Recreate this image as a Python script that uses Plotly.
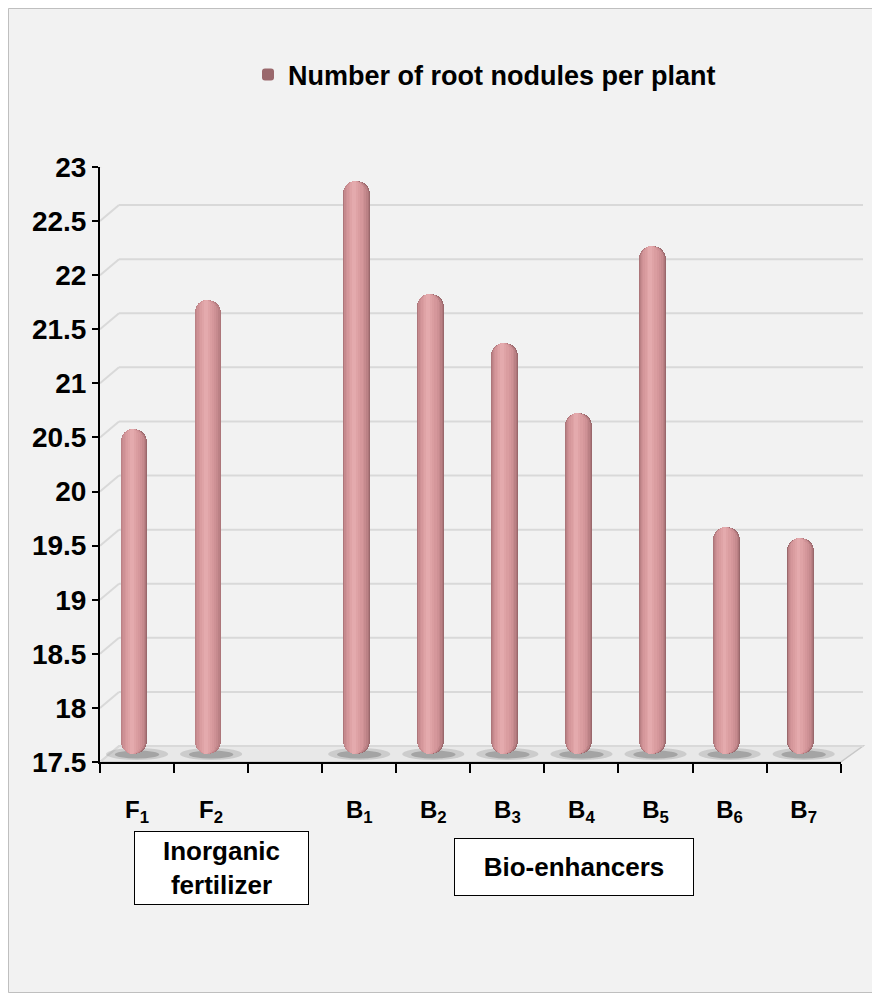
import plotly.graph_objects as go

# Data
categories = ["F1", "F2", "", "B1", "B2", "B3", "B4", "B5", "B6", "B7"]
tick_text = ["F<sub>1</sub>", "F<sub>2</sub>", "", "B<sub>1</sub>", "B<sub>2</sub>",
             "B<sub>3</sub>", "B<sub>4</sub>", "B<sub>5</sub>", "B<sub>6</sub>", "B<sub>7</sub>"]
nodules = [20.5, 21.7, None, 22.8, 21.75, 21.3, 20.65, 22.2, 19.6, 19.5]
y_ticks = [17.5, 18, 18.5, 19, 19.5, 20, 20.5, 21, 21.5, 22, 22.5, 23]
series_name = "Number of root nodules per plant"

FONT = "Liberation Sans, Arial, sans-serif"
OFF = 8                      # page body margin of the browser
W, H = 880 - OFF, 993 - OFF
L, R, T, B = 92, 17, 143, 231
PW, PH = W - L - R, H - T - B


def px(x):
    # screen pixel -> paper fraction
    return (x - OFF - L) / PW


def py(y):
    return (H - B - (y - OFF)) / PH


y_min, y_max = y_ticks[0], y_ticks[-1]
depth_dx = 19 / PW              # back wall shift right
depth_dy = 16 / PH              # back wall shift up
mid_dy = 8 / PH                 # bars stand at mid depth
front_top = 1 - depth_dy
unit_px = front_top * PH / (y_max - y_min)
depth_data = 16 / unit_px
front_right = px(840.7)

xs = list(range(len(categories)))

fig = go.Figure()

# cylinder shading: dark rim -> light core, highlight a bit left of centre
# (bars with a base get both ends rounded, which gives the capsule look)
layers = [(0.36, 0.0, "#9a686c"), (0.345, -0.005, "#ad767a"), (0.325, -0.009, "#bb8185"),
          (0.295, -0.013, "#c68a8e"), (0.255, -0.017, "#ce9195"), (0.21, -0.021, "#d5979b"),
          (0.16, -0.025, "#da9da0"), (0.105, -0.028, "#dfa3a6"), (0.05, -0.03, "#e4aaad")]
shift = -0.04
for i, (w, s, color) in enumerate(layers):
    fig.add_trace(go.Bar(
        x=xs, y=[None if v is None else v - y_min for v in nodules], base=y_min,
        width=w, offset=-w / 2 + s + shift,
        marker_color=color, marker_line_width=0, marker_cornerradius="50%",
        xaxis="x", yaxis="y3", hoverinfo="skip",
        name=f"<b>{series_name}</b>", showlegend=(i == 0),
    ))

shapes = []
# floor
shapes.append(dict(
    type="path", xref="paper", yref="paper", layer="below",
    path=f"M 0 0 L {front_right} 0 L 1 {depth_dy} L {depth_dx} {depth_dy} Z",
    fillcolor="#e8e8e8", line=dict(color="#c8c8c8", width=1.5),
))
# back wall and side wall gridlines
for v in y_ticks:
    shapes.append(dict(type="line", xref="paper", yref="y", layer="below",
                       x0=0, y0=v, x1=depth_dx, y1=v + depth_data,
                       line=dict(color="#d9d9d9", width=2)))
    shapes.append(dict(type="line", xref="paper", yref="y", layer="below",
                       x0=depth_dx, y0=v + depth_data, x1=1, y1=v + depth_data,
                       line=dict(color="#d9d9d9", width=2)))
# shadows under the cylinders
for x, v in zip(xs, nodules):
    if v is None:
        continue
    shapes.append(dict(type="circle", xref="x", yref="paper", layer="below",
                       x0=x - 0.42, x1=x + 0.42, y0=py(760), y1=py(748),
                       fillcolor="rgba(120,120,120,0.25)", line_width=0))
    shapes.append(dict(type="circle", xref="x", yref="paper", layer="below",
                       x0=x - 0.3, x1=x + 0.3, y0=py(758.5), y1=py(750.5),
                       fillcolor="rgba(90,90,90,0.35)", line_width=0))
# chart border
shapes.append(dict(type="rect", xref="paper", yref="paper",
                   x0=px(8.5), x1=px(879.5), y0=py(992.5), y1=py(8.5),
                   line=dict(color="#bfbfbf", width=1)))

annotations = [
    dict(text="<b>Inorganic<br>fertilizer</b>", xref="paper", yref="paper",
         x=px(221.5), y=py(868), xanchor="center", yanchor="middle",
         showarrow=False, width=171, height=70,
         bgcolor="white", bordercolor="black", borderwidth=1,
         font=dict(family=FONT, size=26, color="black")),
    dict(text="<b>Bio-enhancers</b>", xref="paper", yref="paper",
         x=px(574), y=py(867), xanchor="center", yanchor="middle",
         showarrow=False, width=236, height=54,
         bgcolor="white", bordercolor="black", borderwidth=1,
         font=dict(family=FONT, size=26, color="black")),
]

fig.update_layout(
    width=W, height=H,
    margin=dict(l=L, r=R, t=T, b=B, autoexpand=False),
    paper_bgcolor="#f2f2f2", plot_bgcolor="rgba(0,0,0,0)",
    barmode="overlay", bargap=0,
    font=dict(family=FONT, color="black"),
    shapes=shapes, annotations=annotations,
    legend=dict(orientation="h", x=px(248), y=py(75), xanchor="left", yanchor="middle",
                font=dict(family=FONT, size=27, color="black"),
                bgcolor="rgba(0,0,0,0)"),
    xaxis=dict(
        domain=[0, front_right], range=[-0.5, len(xs) - 0.5],
        tickmode="array", tickvals=xs, ticktext=[f"<b>{t}</b>" for t in tick_text],
        ticks="", showgrid=False, zeroline=False,
        showline=True, linecolor="black", linewidth=2,
        tickfont=dict(family=FONT, size=24, color="black"),
        ticklabelstandoff=25,
        minor=dict(tickmode="array", tickvals=[x - 0.5 for x in xs] + [xs[-1] + 0.5],
                   ticks="outside", ticklen=9, tickwidth=2, tickcolor="black"),
        anchor="y",
    ),
    yaxis=dict(
        domain=[0, front_top], range=[y_min, y_max],
        tickmode="array", tickvals=y_ticks,
        ticktext=[f"<b>{v:g}</b>" for v in y_ticks],
        ticks="outside", ticklen=6, tickwidth=2, tickcolor="black",
        showgrid=False, zeroline=False,
        showline=True, linecolor="black", linewidth=2,
        tickfont=dict(family=FONT, size=28, color="black"),
        anchor="x",
    ),
    yaxis3=dict(
        domain=[mid_dy, mid_dy + front_top], range=[y_min, y_max],
        visible=False, anchor="x",
    ),
)

fig.write_html("out.html")
